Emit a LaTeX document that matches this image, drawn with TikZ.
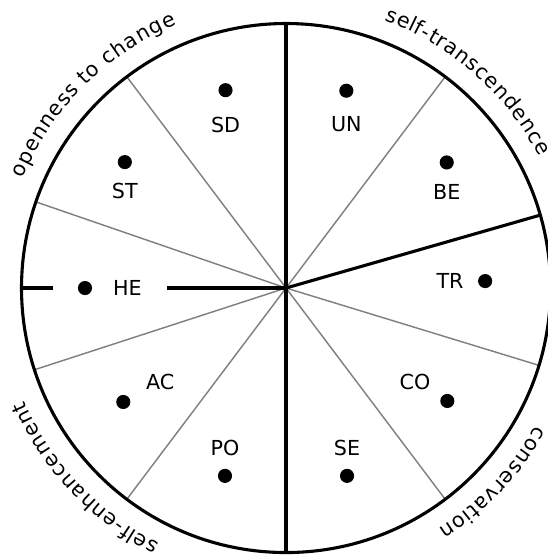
\documentclass[tikz,border=0pt]{standalone}
\usepackage{fontspec}
\setmainfont{DejaVu Sans}
\usetikzlibrary{positioning,decorations.text}
\colorlet{circle edge}{black}
\colorlet{sector edge}{gray}
\tikzset{border/.style={draw=circle edge, line width=1.5pt},
    divider/.style={draw=sector edge, line width=0.7pt},
    dot/.style={circle, fill=black, inner sep=0pt, minimum size=0.24cm},
    value/.style={inner sep=0pt, outer sep=0pt},
    arclabel/.style={decorate, decoration={text along path, text align=center, raise=0.35cm, text={#1}}}}
\def\radius{4.5cm}

\begin{document}
\begin{tikzpicture}
  \useasboundingbox (-4.866,-4.542) rectangle (4.457,4.900);
  \coordinate (O) at (0,0);
  % sector borders
  \draw[divider] (O) -- (53:\radius);
  \draw[divider] (O) -- (-17:\radius);
  \draw[divider] (O) -- (-53:\radius);
  \draw[divider] (O) -- (-127:\radius);
  \draw[divider] (O) -- (-162:\radius);
  \draw[divider] (O) -- (161:\radius);
  \draw[divider] (O) -- (127:\radius);
  % values
  \node[dot] (SD) at (107:3.52) {};
  \node[value, below=0.33cm of SD] (SD label) {SD};
  \node[dot] (UN) at (73:3.51) {};
  \node[value, below=0.31cm of UN] (UN label) {UN};
  \node[dot] (ST) at (142:3.48) {};
  \node[value, below=0.24cm of ST] (ST label) {ST};
  \node[dot] (BE) at (38:3.47) {};
  \node[value, below=0.24cm of BE] (BE label) {BE};
  \node[dot] (TR) at (2:3.39) {};
  \node[value, left=0.24cm of TR] (TR label) {TR};
  \node[dot] (HE) at (180:3.42) {};
  \node[value, right=0.35cm of HE] (HE label) {HE};
  \node[dot] (CO) at (-35:3.35) {};
  \node[value, above left=0.1cm and 0.2cm of CO] (CO label) {CO};
  \node[dot] (AC) at (-145:3.38) {};
  \node[value, above right=0.11cm and 0.3cm of AC] (AC label) {AC};
  \node[dot] (SE) at (-72:3.36) {};
  \node[value, above=0.21cm of SE] (SE label) {SE};
  \node[dot] (PO) at (-108:3.36) {};
  \node[value, above=0.21cm of PO] (PO label) {PO};
  % higher order borders
  \draw[border] (O) circle (\radius);
  \draw[border] (90:\radius) -- (-90:\radius);
  \draw[border] (O) -- (16:\radius);
  \coordinate (W) at (180:\radius);
  \draw[border, shorten >=0.41cm] (W) -- (HE);
  \draw[border, shorten >=0.43cm] (O) -- (HE label);
  % higher order names
  \path[arclabel={openness to change}] (180:\radius) arc[start angle=180, end angle=90, radius=\radius];
  \path[arclabel={self-transcendence}] (93.6:\radius) arc[start angle=93.6, end angle=3.6, radius=\radius];
  \path[arclabel={conservation}] (1.8:\radius) arc[start angle=1.8, end angle=-88.2, radius=\radius];
  \path[arclabel={self-enhancement}] (-91.5:\radius) arc[start angle=-91.5, end angle=-181.5, radius=\radius];
\end{tikzpicture}
\end{document}
